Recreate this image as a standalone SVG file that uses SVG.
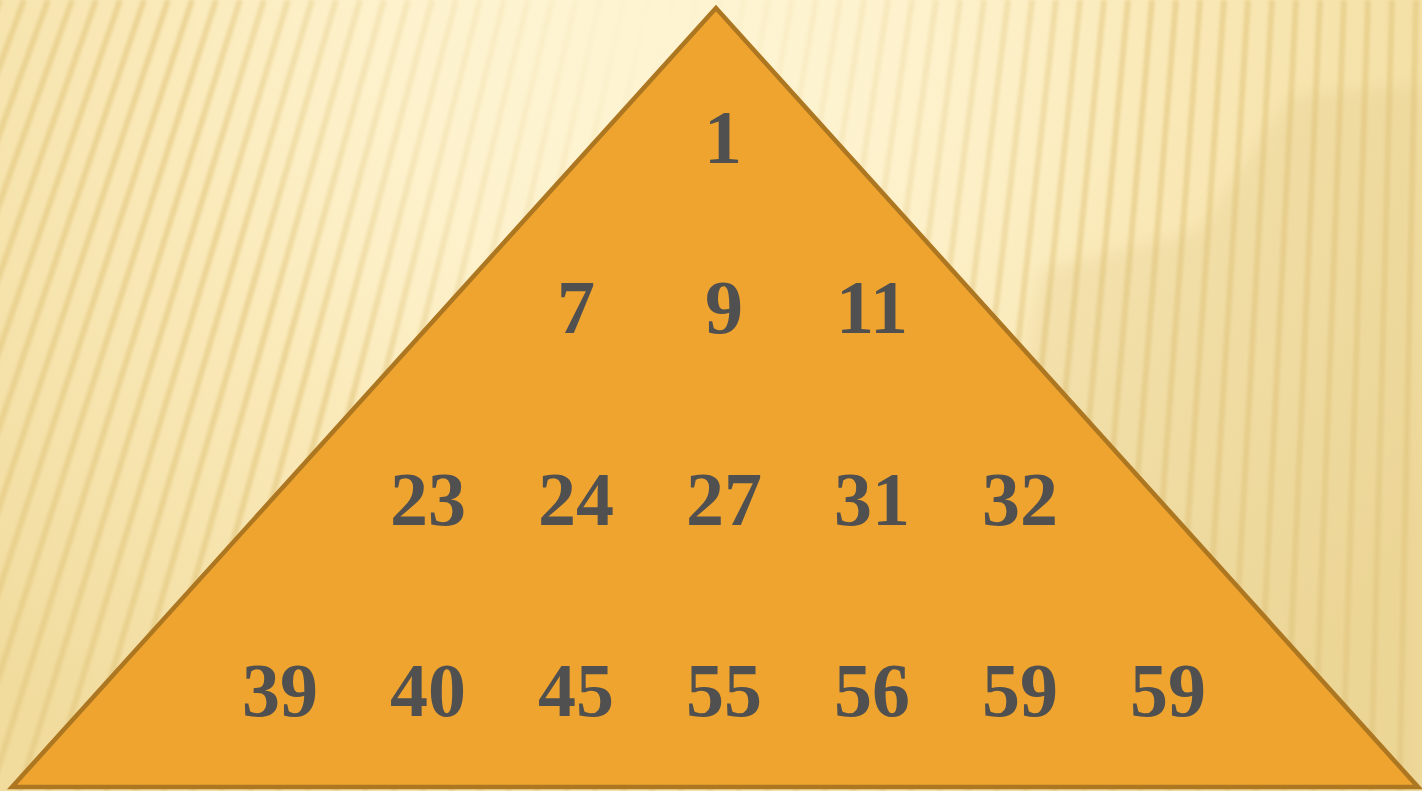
<svg xmlns="http://www.w3.org/2000/svg" width="1422" height="791" viewBox="0 0 1422 791">
<defs>
<radialGradient id="bg" cx="650" cy="40" r="900" gradientUnits="userSpaceOnUse">
<stop offset="0" stop-color="#FEF4D2"/>
<stop offset="0.5" stop-color="#FBEBBC"/>
<stop offset="1" stop-color="#F1DC9E"/>
</radialGradient>
<radialGradient id="glow" cx="660" cy="30" r="480" gradientUnits="userSpaceOnUse">
<stop offset="0" stop-color="#FEF4D2" stop-opacity="1"/>
<stop offset="0.55" stop-color="#FEF4D2" stop-opacity="0.55"/>
<stop offset="1" stop-color="#FEF4D2" stop-opacity="0"/>
</radialGradient>
<filter id="soft" x="-5%" y="-5%" width="110%" height="110%"><feGaussianBlur stdDeviation="1.8"/></filter>
<filter id="blur8"><feGaussianBlur stdDeviation="8"/></filter>
<style>
.stripes{fill:none;stroke:#E2C77E;stroke-width:6;stroke-opacity:0.6}
.tri{fill:#EFA42F;stroke:#AD7721;stroke-width:4.5;stroke-linejoin:miter}
.num{font-family:"Liberation Serif","Times New Roman",serif;font-weight:bold;font-size:76px;fill:#505050;text-anchor:middle}
</style>
</defs>
<g id="background">
<rect x="0" y="0" width="1422" height="791" fill="url(#bg)"/>
<path class="stripes" filter="url(#soft)" d="M0 0L-296.6 791M24 0L-267.9 791M48 0L-239.1 791M72 0L-210.4 791M96 0L-181.6 791M120 0L-152.9 791M144 0L-124.1 791M168 0L-95.4 791M192 0L-66.6 791M216 0L-37.9 791M240 0L-9.1 791M264 0L19.6 791M288 0L48.4 791M312 0L77.1 791M336 0L105.8 791M360 0L134.6 791M384 0L163.3 791M408 0L192.1 791M432 0L220.8 791M456 0L249.6 791M480 0L278.3 791M504 0L307.1 791M528 0L335.8 791M552 0L364.6 791M576 0L393.3 791M600 0L422.1 791M624 0L450.8 791M648 0L479.5 791M672 0L508.3 791M696 0L537 791M720 0L565.8 791M744 0L594.5 791M768 0L623.3 791M792 0L652 791M816 0L680.8 791M840 0L709.5 791M864 0L738.3 791M888 0L767 791M912 0L795.8 791M936 0L824.5 791M960 0L853.2 791M984 0L882 791M1008 0L910.7 791M1032 0L939.5 791M1056 0L968.2 791M1080 0L997 791M1104 0L1025.7 791M1128 0L1054.5 791M1152 0L1083.2 791M1176 0L1112 791M1200 0L1140.7 791M1224 0L1169.4 791M1248 0L1198.2 791M1272 0L1226.9 791M1296 0L1255.7 791M1320 0L1284.4 791M1344 0L1313.2 791M1368 0L1341.9 791M1392 0L1370.7 791M1416 0L1399.4 791M1440 0L1428.2 791"/>
<path d="M1290 95 L1422 85 L1422 791 L960 791 L1040 270 L1200 230 Z" fill="#DCC079" fill-opacity="0.22" filter="url(#blur8)"/>
<rect x="0" y="0" width="1422" height="791" fill="url(#glow)"/>
</g>
<g id="pyramid">
<polygon class="tri" points="716,8 12,787 1418,787"/>
</g>
<g id="row1">
<text class="num" x="723" y="163">1</text>
</g>
<g id="row2">
<text class="num" x="576" y="333">7</text>
<text class="num" x="724" y="333">9</text>
<text class="num" x="872" y="333">11</text>
</g>
<g id="row3">
<text class="num" x="428" y="525">23</text>
<text class="num" x="576" y="525">24</text>
<text class="num" x="724" y="525">27</text>
<text class="num" x="872" y="525">31</text>
<text class="num" x="1020" y="525">32</text>
</g>
<g id="row4">
<text class="num" x="280" y="716">39</text>
<text class="num" x="428" y="716">40</text>
<text class="num" x="576" y="716">45</text>
<text class="num" x="724" y="716">55</text>
<text class="num" x="872" y="716">56</text>
<text class="num" x="1020" y="716">59</text>
<text class="num" x="1168" y="716">59</text>
</g>
</svg>
